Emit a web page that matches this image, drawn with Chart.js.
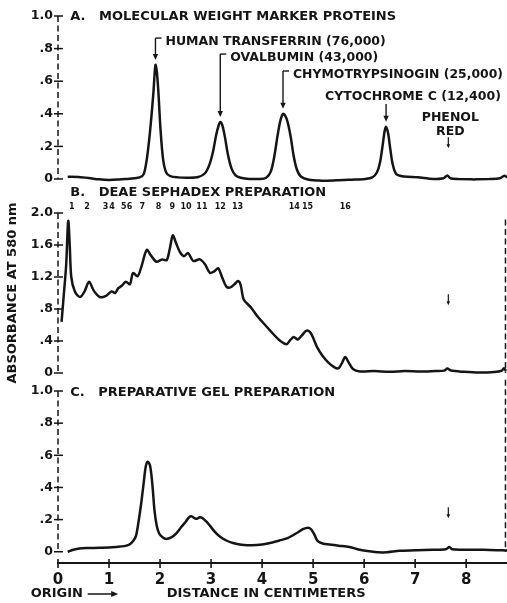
<!DOCTYPE html>
<html>
<head>
<meta charset="utf-8">
<script src="https://cdn.jsdelivr.net/npm/chart.js@4.4.1/dist/chart.umd.min.js"></script>
<style>
  html, body { margin: 0; padding: 0; background: #fff; }
  #wrap { position: relative; width: 507px; height: 603px; background: #fff; }
  #wrap canvas { position: absolute; left: 0; top: 0; }
</style>
</head>
<body>
<div id="wrap">
  <canvas id="chartA" width="507" height="603"></canvas>
  <canvas id="chartB" width="507" height="603"></canvas>
  <canvas id="chartC" width="507" height="603"></canvas>
</div>
<script>
// A. marker proteins trace (distance in cm, absorbance)
const distA = [0.19, 0.4, 0.6, 0.8, 1.0, 1.2, 1.4, 1.6, 1.68, 1.74,
  1.79, 1.83, 1.87, 1.91, 1.94, 1.97, 2.01, 2.06, 2.12, 2.2,
  2.35, 2.55, 2.75, 2.88, 2.97, 3.04, 3.1, 3.15, 3.18, 3.22,
  3.27, 3.33, 3.4, 3.48, 3.58, 3.75, 3.95, 4.08, 4.17, 4.24,
  4.3, 4.36, 4.41, 4.45, 4.5, 4.56, 4.62, 4.68, 4.76, 4.92,
  5.15, 5.45, 5.75, 6.02, 6.16, 6.25, 6.31, 6.36, 6.4, 6.43,
  6.47, 6.51, 6.56, 6.63, 6.78, 7.05, 7.35, 7.56, 7.63, 7.69,
  7.85, 8.15, 8.45, 8.66, 8.75, 8.8];
const absA = [0.014, 0.012, 0.006, -0.002, -0.006, -0.003, 0.002, 0.01, 0.03, 0.12,
  0.25, 0.38, 0.53, 0.70, 0.65, 0.52, 0.30, 0.12, 0.04, 0.018,
  0.01, 0.008, 0.012, 0.035, 0.09, 0.17, 0.27, 0.33, 0.35, 0.33,
  0.26, 0.15, 0.065, 0.022, 0.008, 0.0, 0.0, 0.008, 0.045, 0.14,
  0.26, 0.36, 0.40, 0.39, 0.35, 0.26, 0.14, 0.06, 0.015, -0.005,
  -0.01, -0.008, -0.004, 0.0, 0.01, 0.04, 0.1, 0.2, 0.29, 0.32,
  0.28, 0.19, 0.09, 0.03, 0.015, 0.01, 0.0, 0.005, 0.022, 0.005,
  0.0, -0.003, 0.0, 0.005, 0.02, 0.01];

// B. DEAE Sephadex preparation
const distB = [0.07, 0.11, 0.16, 0.2, 0.23, 0.26, 0.33, 0.43, 0.52, 0.61,
  0.7, 0.82, 0.93, 1.05, 1.12, 1.18, 1.25, 1.33, 1.41, 1.47,
  1.56, 1.63, 1.74, 1.82, 1.93, 2.04, 2.13, 2.19, 2.25, 2.31,
  2.39, 2.47, 2.55, 2.65, 2.78, 2.88, 2.98, 3.06, 3.14, 3.22,
  3.3, 3.38, 3.46, 3.53, 3.58, 3.64, 3.78, 3.92, 4.06, 4.2,
  4.34, 4.48, 4.55, 4.62, 4.7, 4.78, 4.87, 4.94, 5.0, 5.08,
  5.18, 5.3, 5.42, 5.5, 5.57, 5.63, 5.69, 5.78, 5.92, 6.2,
  6.5, 6.8, 7.1, 7.4, 7.57, 7.63, 7.7, 7.95, 8.25, 8.55,
  8.7, 8.74, 8.78];
const absB = [0.64, 0.95, 1.35, 1.9, 1.6, 1.2, 1.02, 0.95, 1.02, 1.14,
  1.03, 0.95, 0.96, 1.02, 1.0, 1.06, 1.09, 1.14, 1.11, 1.25,
  1.21, 1.32, 1.54, 1.47, 1.39, 1.42, 1.41, 1.55, 1.72, 1.63,
  1.51, 1.46, 1.50, 1.40, 1.42, 1.36, 1.25, 1.27, 1.31, 1.19,
  1.08, 1.07, 1.11, 1.15, 1.1, 0.92, 0.82, 0.7, 0.6, 0.5,
  0.41, 0.36, 0.41, 0.45, 0.42, 0.47, 0.53, 0.51, 0.44, 0.32,
  0.22, 0.13, 0.07, 0.06, 0.13, 0.2, 0.14, 0.05, 0.02, 0.025,
  0.015, 0.025, 0.018, 0.025, 0.03, 0.055, 0.03, 0.015, 0.005, 0.012,
  0.03, 0.06, 0.025];

// C. preparative gel preparation
const distC = [0.19, 0.3, 0.42, 0.6, 0.81, 1.0, 1.14, 1.3, 1.4, 1.48,
  1.53, 1.58, 1.63, 1.68, 1.72, 1.76, 1.8, 1.83, 1.86, 1.89,
  1.93, 1.98, 2.05, 2.12, 2.22, 2.32, 2.42, 2.51, 2.57, 2.62,
  2.67, 2.72, 2.78, 2.83, 2.9, 2.97, 3.07, 3.17, 3.3, 3.43,
  3.6, 3.8, 4.0, 4.2, 4.34, 4.5, 4.67, 4.8, 4.9, 4.96,
  5.02, 5.09, 5.2, 5.32, 5.5, 5.71, 5.91, 6.1, 6.37, 6.7,
  7.0, 7.35, 7.6, 7.67, 7.73, 8.0, 8.33, 8.6, 8.8];
const absC = [0.0, 0.012, 0.02, 0.023, 0.025, 0.027, 0.03, 0.035, 0.045, 0.07,
  0.1, 0.19, 0.3, 0.43, 0.53, 0.56, 0.54, 0.48, 0.38, 0.26,
  0.17, 0.115, 0.09, 0.08, 0.09, 0.115, 0.155, 0.19, 0.215, 0.22,
  0.21, 0.205, 0.215, 0.21, 0.19, 0.165, 0.125, 0.095, 0.07, 0.054,
  0.044, 0.04, 0.045, 0.058, 0.07, 0.085, 0.115, 0.14, 0.15, 0.14,
  0.11, 0.066, 0.05, 0.045, 0.038, 0.03, 0.012, 0.003, -0.004, 0.006,
  0.01, 0.012, 0.015, 0.03, 0.015, 0.013, 0.012, 0.01, 0.008];

const ticksA = [0, 0.2, 0.4, 0.6, 0.8, 1.0];
const tickLabelsA = ['0', '.2', '.4', '.6', '.8', '1.0'];
const ticksB = [0, 0.4, 0.8, 1.2, 1.6, 2.0];
const tickLabelsB = ['0', '.4', '.8', '1.2', '1.6', '2.0'];
const distTicks = [0, 1, 2, 3, 4, 5, 6, 7, 8];

const markerNames = ['HUMAN TRANSFERRIN (76,000)', 'OVALBUMIN (43,000)', 'CHYMOTRYPSINOGIN (25,000)', 'CYTOCHROME C (12,400)'];
const markerDist = [1.91, 3.18, 4.41, 6.43];
const markerPeak = [0.70, 0.35, 0.40, 0.32];

const bandNumbers = ['1', '2', '3', '4', '5', '6', '7', '8', '9', '10', '11', '12', '13', '14', '15', '16'];
const bandDist = [0.27, 0.57, 0.93, 1.06, 1.29, 1.40, 1.65, 1.97, 2.24, 2.51, 2.82, 3.18, 3.52, 4.63, 4.89, 5.63];
const phenolRedDist = 7.65;

const ink = '#151515';
const family = '"DejaVu Sans", sans-serif';
Chart.defaults.font.family = family;
Chart.defaults.color = ink;

// text rows of the marker labels, in panel A absorbance units
const markerRows = [0.84, 0.742, 0.638, 0.503];

function line(ctx, x1, y1, x2, y2) {
  ctx.beginPath();
  ctx.moveTo(x1, y1);
  ctx.lineTo(x2, y2);
  ctx.stroke();
}

function arrowDown(ctx, x, yFrom, yTo, head) {
  line(ctx, x, yFrom, x, yTo - head + 1);
  ctx.beginPath();
  ctx.moveTo(x - head * 0.45, yTo - head);
  ctx.lineTo(x + head * 0.45, yTo - head);
  ctx.lineTo(x, yTo);
  ctx.closePath();
  ctx.fill();
}

function drawMarkers(chart, ctx) {
  const x = chart.scales.x, y = chart.scales.y;
  ctx.font = 'bold 12.5px ' + family;
  ctx.textBaseline = 'middle';
  ctx.lineWidth = 1.4;
  markerNames.forEach((name, i) => {
    const px = x.getPixelForValue(markerDist[i]);
    const rowY = y.getPixelForValue(markerRows[i]);
    const tip = y.getPixelForValue(markerPeak[i]) - 5;
    ctx.textAlign = 'left';
    if (i < 3) {
      line(ctx, px, rowY - 4, px + 6, rowY - 4);
      arrowDown(ctx, px, rowY - 4, tip, 6);
      ctx.fillText(name, px + 10, rowY, chart.chartArea.right - px - 14);
    } else {
      arrowDown(ctx, px, rowY + 7, tip, 6);
      ctx.fillText(name, px - 61, rowY, chart.chartArea.right - px + 57);
    }
  });
  const pr = x.getPixelForValue(phenolRedDist) + 2;
  ctx.textAlign = 'center';
  ctx.fillText('PHENOL', pr, y.getPixelForValue(0.374));
  ctx.fillText('RED', pr, y.getPixelForValue(0.288));
}

function drawBands(chart, ctx) {
  const x = chart.scales.x;
  ctx.font = 'bold 8px ' + family;
  ctx.textAlign = 'center';
  ctx.textBaseline = 'middle';
  bandNumbers.forEach((n, i) => ctx.fillText(n, x.getPixelForValue(bandDist[i]), chart.chartArea.top - 6));
}

function drawDistanceAxis(chart, ctx) {
  const x = chart.scales.x;
  const axisY = chart.chartArea.bottom;
  ctx.lineWidth = 1.6;
  distTicks.forEach(v => {
    const px = x.getPixelForValue(v);
    line(ctx, px, axisY - 4, px, axisY + 5);
  });
  const textY = axisY + 31;
  ctx.font = 'bold 13px ' + family;
  ctx.textBaseline = 'middle';
  ctx.textAlign = 'right';
  ctx.fillText('ORIGIN', x.getPixelForValue(0.49), textY);
  const a0 = x.getPixelForValue(0.58), a1 = x.getPixelForValue(1.18);
  ctx.lineWidth = 1.5;
  line(ctx, a0, textY, a1 - 5, textY);
  ctx.beginPath();
  ctx.moveTo(a1 - 7, textY - 3);
  ctx.lineTo(a1, textY);
  ctx.lineTo(a1 - 7, textY + 3);
  ctx.closePath();
  ctx.fill();
  ctx.textAlign = 'left';
  ctx.fillText('DISTANCE IN CENTIMETERS', x.getPixelForValue(2.13), textY);
}

const decorFor = {
  chartA: { title: 'A.   MOLECULAR WEIGHT MARKER PROTEINS', titleDy: 1, ticks: ticksA, phenolAt: 0.22, rightTop: null, extra: drawMarkers },
  chartB: { title: 'B.   DEAE SEPHADEX PREPARATION', titleDy: -20, ticks: ticksB, phenolAt: 0.91, rightTop: 1.92, extra: drawBands },
  chartC: { title: 'C.   PREPARATIVE GEL PREPARATION', titleDy: 2, ticks: ticksA, phenolAt: 0.24, rightTop: 1.07, extra: drawDistanceAxis }
};

const panelDecor = {
  id: 'panelDecor',
  afterDraw(chart) {
    const d = decorFor[chart.canvas.id];
    const ctx = chart.ctx;
    const x = chart.scales.x, y = chart.scales.y;
    const x0 = x.getPixelForValue(0);
    const y0 = y.getPixelForValue(0);
    ctx.save();
    ctx.strokeStyle = ink;
    ctx.fillStyle = ink;

    // dashed ordinate with cross ticks
    ctx.lineWidth = 1.5;
    ctx.setLineDash([6, 3.5]);
    line(ctx, x0, y.getPixelForValue(d.ticks[d.ticks.length - 1]), x0, y0);
    if (d.rightTop) {
      const xr = x.getPixelForValue(8.77);
      line(ctx, xr, y.getPixelForValue(d.rightTop), xr, y0);
    }
    ctx.setLineDash([]);
    d.ticks.forEach(v => {
      const py = y.getPixelForValue(v);
      line(ctx, x0 - 4, py, x0 + 5, py);
    });

    // phenol red marker
    const pr = x.getPixelForValue(phenolRedDist);
    const pa = y.getPixelForValue(d.phenolAt);
    ctx.lineWidth = 1.2;
    arrowDown(ctx, pr, pa - 6, pa + 5, 4);

    ctx.font = 'bold 13px ' + family;
    ctx.textAlign = 'left';
    ctx.textBaseline = 'middle';
    ctx.fillText(d.title, x.getPixelForValue(0.24), chart.chartArea.top + d.titleDy);

    d.extra(chart, ctx);
    ctx.restore();
  }
};

function yScale(min, max, ticks, labels, title) {
  return {
    type: 'linear',
    min: min,
    max: max,
    afterBuildTicks: s => { s.ticks = ticks.map(v => ({ value: v })); },
    afterFit: s => { s.width = 58; },
    grid: { display: false, drawTicks: false },
    border: { display: false },
    ticks: { padding: 5, font: { size: 12.5, weight: 'bold' }, callback: v => labels[ticks.indexOf(v)] },
    title: title
      ? { display: true, text: title, font: { size: 13, weight: 'bold' }, padding: { top: 5, bottom: 0 } }
      : { display: false }
  };
}

const hiddenX = { type: 'linear', min: 0, max: 8.8, display: false };
const distanceX = {
  type: 'linear',
  min: 0,
  max: 8.8,
  afterBuildTicks: s => { s.ticks = distTicks.map(v => ({ value: v })); },
  afterFit: s => { s.height = 40; },
  grid: { display: false, drawTicks: false },
  border: { display: true, color: ink, width: 2 },
  ticks: { padding: 8, autoSkip: false, maxRotation: 0, font: { size: 15, weight: 'bold' } }
};

function makePanel(id, dist, abs, xAxis, yAxis, padding) {
  return new Chart(document.getElementById(id), {
    type: 'line',
    data: {
      datasets: [{
        data: dist.map((d, i) => ({ x: d, y: abs[i] })),
        borderColor: ink,
        borderWidth: 2.5,
        pointRadius: 0,
        tension: 0.3,
        clip: false
      }]
    },
    options: {
      responsive: false,
      animation: false,
      events: [],
      layout: { padding: padding },
      plugins: { legend: { display: false }, tooltip: { enabled: false } },
      scales: { x: xAxis, y: yAxis }
    },
    plugins: [panelDecor]
  });
}

makePanel('chartA', distA, absA, hiddenX, yScale(0, 1.0, ticksA, tickLabelsA), { left: 0, right: 0, top: 16, bottom: 424 });
makePanel('chartB', distB, absB, hiddenX, yScale(0, 2.0, ticksB, tickLabelsB, 'ABSORBANCE AT 580 nm'), { left: 0, right: 0, top: 213, bottom: 230 });
makePanel('chartC', distC, absC, distanceX, yScale(-0.07, 1.0, ticksA, tickLabelsA), { left: 0, right: 0, top: 391, bottom: 0 });
</script>
</body>
</html>
